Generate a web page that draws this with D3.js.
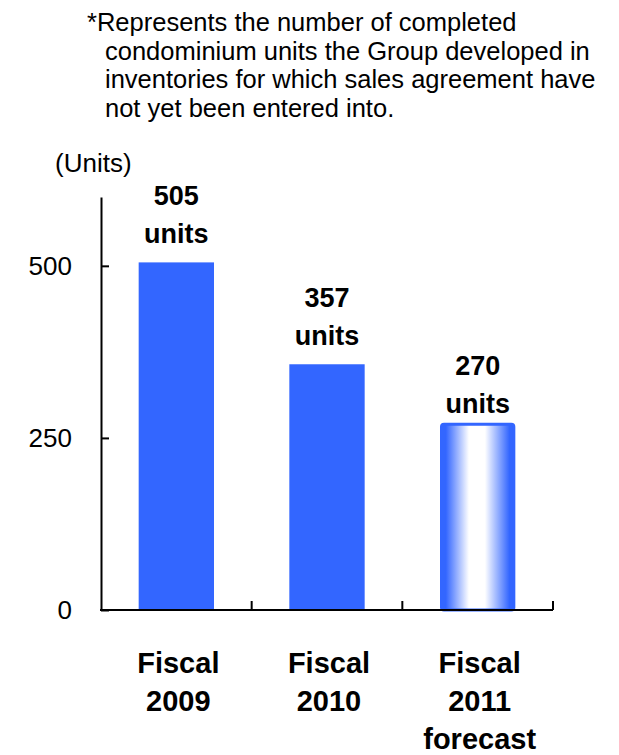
<!DOCTYPE html>
<html>
<head>
<meta charset="utf-8">
<script src="https://cdn.jsdelivr.net/npm/d3@7"></script>
<style>
  html, body { margin: 0; padding: 0; background: #ffffff; }
  svg { display: block; }
  text { font-family: "Liberation Sans", Arial, Helvetica, sans-serif; fill: #000; }
</style>
</head>
<body>
<svg id="chart" width="619" height="755"></svg>
<script>
// Unsold completed condominium inventory by fiscal year
const categories = ["Fiscal 2009", "Fiscal 2010", "Fiscal 2011 forecast"];
const categoryLines = [["Fiscal", "2009"], ["Fiscal", "2010"], ["Fiscal", "2011", "forecast"]];
const values = [505, 357, 270];
const isForecast = [false, false, true];
const valueUnit = "units";
const yTicks = [0, 250, 500];
const yAxisTitle = "(Units)";
const noteLines = [
  "*Represents the number of completed",
  "condominium units the Group developed in",
  "inventories for which sales agreement have",
  "not yet been entered into."
];

const svg = d3.select("#chart");
const barColor = "#3366ff";

const plot = { left: 101, right: 553, top: 197, bottom: 610 };

const x = d3.scaleBand()
  .domain(categories)
  .range([plot.left, plot.right])
  .paddingInner(0.5)
  .paddingOuter(0.25);

const y = d3.scaleLinear()
  .domain([0, 600])
  .range([plot.bottom, plot.top]);

// Footnote above the chart
const note = svg.append("text")
  .attr("font-size", 25.5)
  .attr("y", 31);
noteLines.forEach((line, i) => {
  note.append("tspan")
    .attr("x", i === 0 ? 87 : 105)
    .attr("y", 31 + i * 28.7)
    .text(line);
});

// Gradient for the forecast bar: blue edges, white centre
const defs = svg.append("defs");
const grad = defs.append("linearGradient")
  .attr("id", "forecastFill")
  .attr("x1", "0%").attr("x2", "100%")
  .attr("y1", "0%").attr("y2", "0%");
[
  [0, barColor], [0.06, barColor], [0.38, "#ffffff"],
  [0.6, "#ffffff"], [0.94, barColor], [1, barColor]
].forEach(([o, c]) => grad.append("stop").attr("offset", o).attr("stop-color", c));

// Bars
const bars = categories.map((c, i) => ({ c, v: values[i], f: isForecast[i], lines: categoryLines[i] }));

svg.append("g").selectAll("rect")
  .data(bars)
  .join("rect")
  .attr("x", d => d.f ? x(d.c) + 1.5 : x(d.c))
  .attr("width", d => d.f ? x.bandwidth() - 3 : x.bandwidth())
  .attr("y", d => y(d.v))
  .attr("height", d => y(0) - y(d.v))
  .attr("rx", d => d.f ? 2.5 : 0)
  .attr("fill", d => d.f ? "url(#forecastFill)" : barColor)
  .attr("stroke", d => d.f ? barColor : "none")
  .attr("stroke-width", d => d.f ? 3 : 0);

// Y axis: ticks pointing into the plot, labels to the left
const yAxis = d3.axisLeft(y)
  .tickValues(yTicks)
  .tickSizeInner(-8)
  .tickSizeOuter(0)
  .tickPadding(29)
  .tickFormat(d3.format("d"));

const yg = svg.append("g")
  .attr("transform", `translate(${plot.left},0)`)
  .call(yAxis);
yg.select(".domain").attr("stroke", "#000").attr("stroke-width", 2);
yg.selectAll(".tick line").attr("stroke", "#000").attr("stroke-width", 2);
yg.selectAll(".tick text")
  .attr("font-size", 26)
  .attr("font-family", "'Liberation Sans', Arial, sans-serif")
  .attr("fill", "#000");

// Baseline with dividers between categories
const base = svg.append("g");
base.append("line")
  .attr("x1", plot.left - 1).attr("x2", x.range()[1])
  .attr("y1", y(0)).attr("y2", y(0))
  .attr("stroke", "#000").attr("stroke-width", 2);
base.selectAll("line.div")
  .data(categories)
  .join("line")
  .attr("class", "div")
  .attr("x1", d => x(d) - x.step() * x.paddingOuter() + x.step())
  .attr("x2", d => x(d) - x.step() * x.paddingOuter() + x.step())
  .attr("y1", y(0))
  .attr("y2", y(0) - 9)
  .attr("stroke", "#000").attr("stroke-width", 2);

// Axis title
svg.append("text")
  .attr("x", 55)
  .attr("y", 172)
  .attr("font-size", 26)
  .text(yAxisTitle);

// Value labels above bars
const vl = svg.append("g").selectAll("text")
  .data(bars)
  .join("text")
  .attr("text-anchor", "middle")
  .attr("font-weight", "bold")
  .attr("font-size", 27);
vl.append("tspan")
  .attr("x", d => x(d.c) + x.bandwidth() / 2)
  .attr("y", d => y(d.v) - (d.f ? 49 : 57))
  .text(d => d.v);
vl.append("tspan")
  .attr("x", d => x(d.c) + x.bandwidth() / 2)
  .attr("y", d => y(d.v) - (d.f ? 11 : 19))
  .text(valueUnit);

// Category labels
const cl = svg.append("g").selectAll("text")
  .data(bars)
  .join("text")
  .attr("text-anchor", "middle")
  .attr("font-weight", "bold")
  .attr("font-size", 29);
cl.selectAll("tspan")
  .data(d => d.lines.map(t => ({ t, cx: x(d.c) + x.bandwidth() / 2 })))
  .join("tspan")
  .attr("x", d => d.cx + 2)
  .attr("y", (d, i) => 673 + i * 38)
  .text(d => d.t);
</script>
</body>
</html>
